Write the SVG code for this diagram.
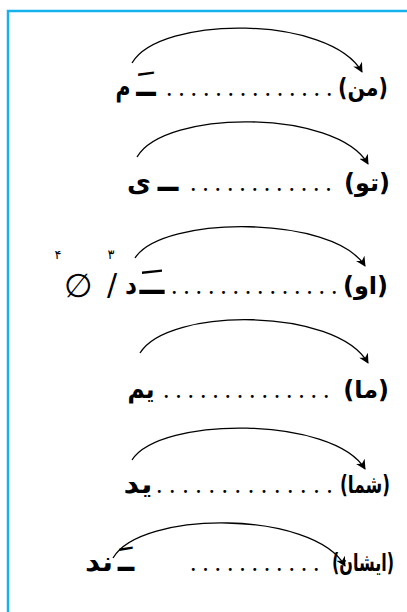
<svg xmlns="http://www.w3.org/2000/svg" width="407" height="612" viewBox="0 0 407 612">
<style>
.ar{font-family:"DejaVu Sans",sans-serif;font-size:26px;font-weight:bold;fill:#000;text-anchor:middle}
.pr{font-family:"DejaVu Sans",sans-serif;font-size:24px;font-weight:bold;fill:#000;text-anchor:end}
.dash{font-family:"DejaVu Sans",sans-serif;font-size:34px;font-weight:bold;fill:#000;text-anchor:middle}
.dots{font-family:"Liberation Serif",serif;font-size:18px;font-weight:bold;fill:#000;letter-spacing:7.8px}
.sup{font-family:"DejaVu Sans",sans-serif;font-size:13px;fill:#000;text-anchor:middle}
.sym{font-family:"DejaVu Sans",sans-serif;fill:#000;text-anchor:middle}
.arc{fill:none;stroke:#000;stroke-width:1.3}
</style>
<defs>
<marker id="ah" viewBox="0 0 10 10" refX="9" refY="5" markerWidth="10" markerHeight="10" markerUnits="userSpaceOnUse" orient="auto">
<path d="M0,0 L10,5 L0,10 L3,5 Z" fill="#000"/>
</marker>
</defs>
<rect width="407" height="612" fill="#fff"/>
<path d="M8,612 V11 H407" fill="none" stroke="#16b2ee" stroke-width="2.5"/>
<g id="connectors">
<path class="arc" d="M132,63 C160,15 330,15 362,72" marker-end="url(#ah)"/>
<path class="arc" d="M137,157 C165,109 336,109 368,164" marker-end="url(#ah)"/>
<path class="arc" d="M135,258 C163,215 333,215 365,266" marker-end="url(#ah)"/>
<path class="arc" d="M140,353 C168,307 336,307 368,363" marker-end="url(#ah)"/>
<path class="arc" d="M132,460 C160,416 333,416 365,469" marker-end="url(#ah)"/>
<path class="arc" d="M113,558 C141,510 313,510 345,566" marker-end="url(#ah)"/>
</g>
<g id="row-man">
<text class="pr" x="388" y="96" textLength="50" lengthAdjust="spacingAndGlyphs">(من)</text>
<text class="dots" x="167" y="96">..............</text>
<text class="dash" x="146" y="96" textLength="19" lengthAdjust="spacingAndGlyphs">ـَ</text>
<text class="ar" x="123" y="96" textLength="15" lengthAdjust="spacingAndGlyphs">م</text>
</g>
<g id="row-to">
<text class="pr" x="390" y="191">(تو)</text>
<text class="dots" x="191" y="191">............</text>
<text class="dash" x="168" y="191" textLength="20" lengthAdjust="spacingAndGlyphs">ـ</text>
<text class="ar" x="139" y="191" textLength="24" lengthAdjust="spacingAndGlyphs">ی</text>
</g>
<g id="row-u">
<text class="pr" x="388" y="294">(او)</text>
<text class="dots" x="172" y="294">..............</text>
<text class="dash" x="152" y="294" textLength="24" lengthAdjust="spacingAndGlyphs">ـَ</text>
<text class="ar" x="131" y="294" textLength="12" lengthAdjust="spacingAndGlyphs">د</text>
<text class="sym" x="112" y="295" font-size="30">/</text>
<text class="sup" x="111" y="259">۳</text>
<text class="sym" x="78" y="297" font-size="33">∅</text>
<text class="sup" x="58" y="259">۴</text>
</g>
<g id="row-ma">
<text class="pr" x="389" y="398">(ما)</text>
<text class="dots" x="164" y="398">..............</text>
<text class="ar" x="141" y="398" textLength="27" lengthAdjust="spacingAndGlyphs">یم</text>
</g>
<g id="row-shoma">
<text class="pr" x="390" y="493" font-size="20" textLength="50" lengthAdjust="spacingAndGlyphs">(شما)</text>
<text class="dots" x="157" y="493" style="letter-spacing:8.6px">..............</text>
<text class="ar" x="138" y="493" textLength="29" lengthAdjust="spacingAndGlyphs">ید</text>
</g>
<g id="row-ishan">
<text class="pr" x="394" y="571" font-size="19" textLength="62" lengthAdjust="spacingAndGlyphs">(ایشان)</text>
<text class="dots" x="191" y="571">...........</text>
<text class="dash" x="126" y="571" textLength="16" lengthAdjust="spacingAndGlyphs">ـَ</text>
<text class="ar" x="99" y="571" textLength="28" lengthAdjust="spacingAndGlyphs">ند</text>
</g>
</svg>
